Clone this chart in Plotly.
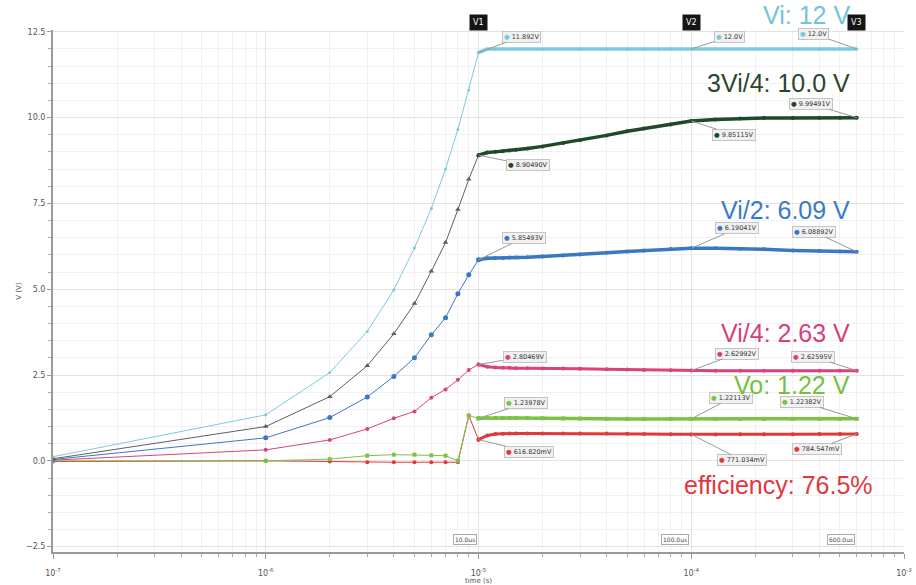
import numpy as np
import plotly.graph_objects as go

# ---------------- data ----------------
# start-up ramp, time in microseconds
t_ramp_us = [0.1, 1, 2, 3, 4, 5, 6, 7, 8, 9, 10]
vi_ramp = [0.12, 1.34, 2.57, 3.77, 4.98, 6.2, 7.35, 8.5, 9.65, 10.8, 11.892]
v34_ramp = [0.06, 1.0, 1.87, 2.77, 3.7, 4.58, 5.52, 6.36, 7.32, 8.2, 8.905]
v12_ramp = [0.04, 0.67, 1.26, 1.86, 2.46, 3.0, 3.67, 4.17, 4.87, 5.42, 5.855]
v14_ramp = [0.02, 0.32, 0.61, 0.93, 1.24, 1.44, 1.84, 2.08, 2.36, 2.65, 2.805]
vo_ramp = [0.0, 0.0, 0.05, 0.15, 0.18, 0.18, 0.16, 0.15, 0.0, 1.32, 1.24]
vr_ramp = [-0.02, 0.0, -0.02, -0.04, -0.04, -0.04, -0.04, -0.04, -0.04, 1.32, 0.617]

# settling part, time in microseconds
t_set_us = [10, 11, 12, 13, 14, 15, 17, 20, 25, 30, 40, 50, 60, 80, 100, 130, 170, 220, 300, 400, 500, 600]
vi_set = [11.892, 12.0, 12.0, 12.0, 12.0, 12.0, 12.0, 12.0, 12.0, 12.0, 12.0,
          12.0, 12.0, 12.0, 12.0, 12.0, 12.0, 12.0, 12.0, 12.0, 12.0, 12.0]
v34_set = [8.905, 8.98, 9.0, 9.02, 9.04, 9.06, 9.1, 9.16, 9.26, 9.34, 9.48,
           9.6, 9.68, 9.8, 9.9, 9.94, 9.97, 9.985, 9.99, 9.993, 9.994, 9.995]
v12_set = [5.855, 5.9, 5.91, 5.91, 5.92, 5.92, 5.93, 5.95, 5.98, 6.01, 6.06,
           6.1, 6.13, 6.17, 6.19, 6.19, 6.18, 6.16, 6.13, 6.11, 6.095, 6.089]
v14_set = [2.805, 2.74, 2.72, 2.71, 2.71, 2.7, 2.7, 2.69, 2.69, 2.68, 2.67,
           2.66, 2.65, 2.64, 2.63, 2.628, 2.627, 2.626, 2.626, 2.626, 2.626, 2.626]
vo_set = [1.24, 1.25, 1.25, 1.25, 1.25, 1.25, 1.245, 1.24, 1.235, 1.23, 1.225,
          1.222, 1.221, 1.221, 1.221, 1.222, 1.222, 1.223, 1.223, 1.224, 1.224, 1.224]
vr_set = [0.617, 0.74, 0.78, 0.79, 0.8, 0.8, 0.8, 0.8, 0.8, 0.8, 0.795,
          0.79, 0.785, 0.775, 0.771, 0.77, 0.772, 0.775, 0.778, 0.781, 0.783, 0.7845]

cursor_names = ["V1", "V2", "V3"]
cursor_t = [10e-6, 100e-6, 600e-6]
cursor_tlabels = ["10.0us", "100.0us", "600.0us"]

labels_c1 = ["11.892V", "8.90490V", "5.85493V", "2.80469V", "1.23978V", "616.820mV"]
labels_c2 = ["12.0V", "9.85115V", "6.19041V", "2.62992V", "1.22113V", "771.034mV"]
labels_c3 = ["12.0V", "9.99491V", "6.08892V", "2.62595V", "1.22382V", "784.547mV"]
vals_c1 = [11.892, 8.905, 5.855, 2.805, 1.24, 0.617]
vals_c2 = [12.0, 9.9, 6.19, 2.63, 1.221, 0.771]
vals_c3 = [12.0, 9.995, 6.089, 2.626, 1.224, 0.7845]

big_labels = ["Vi: 12 V", "3Vi/4: 10.0 V", "Vi/2: 6.09 V", "Vi/4: 2.63 V", "Vo: 1.22 V", "efficiency: 76.5%"]

x_tickvals = [1e-7, 1e-6, 1e-5, 1e-4, 1e-3]
x_ticktext = ["10<sup>-7</sup>", "10<sup>-6</sup>", "10<sup>-5</sup>", "10<sup>-4</sup>", "10<sup>-3</sup>"]
y_tickvals = [-2.5, 0.0, 2.5, 5.0, 7.5, 10.0, 12.5]

# ---------------- styling ----------------
C_VI = "#7ccbdd"
C_34 = "#1f4a29"
C_34R = "#5d615e"
C_12 = "#3a78c4"
C_14 = "#d9437d"
C_VO = "#7cc344"
C_R = "#e0383c"

t_ramp = [v * 1e-6 for v in t_ramp_us]
t_set = [v * 1e-6 for v in t_set_us]

fig = go.Figure()

def add(t, y, color, symbol, size, width):
    fig.add_trace(go.Scatter(x=t, y=y, mode="lines+markers",
                             line=dict(color=color, width=width),
                             marker=dict(color=color, symbol=symbol, size=size),
                             showlegend=False, hoverinfo="skip"))

add(t_ramp, vr_ramp, C_R, "circle", 4, 1)
add(t_ramp, vo_ramp, C_VO, "square", 4, 1)
add(t_ramp, v14_ramp, C_14, "circle", 4, 1)
add(t_ramp, v12_ramp, C_12, "circle", 5, 1)
add(t_ramp, v34_ramp, C_34R, "triangle-up", 5, 1)
add(t_ramp, vi_ramp, C_VI, "circle", 3, 1)

add(t_set, vr_set, C_R, "circle", 4, 3)
add(t_set, vo_set, C_VO, "square", 4, 3.5)
add(t_set, v14_set, C_14, "circle", 4, 3)
add(t_set, v12_set, C_12, "circle", 4, 3.5)
add(t_set, v34_set, C_34, "circle", 4, 3.5)
add(t_set, vi_set, C_VI, "circle", 3, 3.5)

# plot area geometry in pixels (for annotation placement)
L, R, T, B = 53, 904, 30, 552
PH = B - T

def py2paper(py):
    return (B - py) / PH

def px2paper(px):
    return (px - L) / (R - L)

shapes = []
annotations = []

for name, t, tl in zip(cursor_names, cursor_t, cursor_tlabels):
    lx = np.log10(t)
    shapes.append(dict(type="line", xref="x", yref="paper", x0=lx, x1=lx,
                       y0=0, y1=py2paper(8), line=dict(color="#8c8c8c", width=1.3)))
    annotations.append(dict(x=lx, xref="x", y=py2paper(14), yref="paper",
                            text=name, showarrow=False,
                            font=dict(color="white", size=8, family="DejaVu Sans"),
                            bgcolor="#151515", borderpad=3))
    annotations.append(dict(x=lx, xref="x", y=py2paper(545), yref="paper",
                            text=tl, showarrow=False, xanchor="right", xshift=-2,
                            font=dict(color="#444", size=6, family="DejaVu Sans"),
                            bgcolor="white", bordercolor="#aaa", borderwidth=1, borderpad=1))

colors6 = [C_VI, C_34, C_12, C_14, C_VO, C_R]
offsets_c1 = [(43, -16), (49, 10), (45, -22), (46, -8), (47, -15), (50, 12)]
offsets_c2 = [(38, -12), (43, 14), (46, -20), (46, -17), (40, -21), (51, 26)]
offsets_c3 = [(-43, -15), (-46, -14), (-43, -20), (-44, -14), (-55, -17), (-40, 15)]

for t, labs, vals, offs in [(cursor_t[0], labels_c1, vals_c1, offsets_c1),
                            (cursor_t[1], labels_c2, vals_c2, offsets_c2),
                            (cursor_t[2], labels_c3, vals_c3, offsets_c3)]:
    for lab, v, (ax, ay), col in zip(labs, vals, offs, colors6):
        annotations.append(dict(
            x=np.log10(t), y=v, xref="x", yref="y",
            text=f"<span style='color:{col}'>●</span> {lab}",
            showarrow=True, arrowhead=0, arrowwidth=1, arrowcolor="#9a9a9a",
            ax=ax, ay=ay, axref="pixel", ayref="pixel",
            font=dict(size=6.5, color="#333", family="DejaVu Sans"),
            bgcolor="#f1f1f1", bordercolor="#c4c4c4", borderwidth=1, borderpad=1))

big_pos = [(852, 15, "right"), (852, 83, "right"), (852, 210, "right"),
           (852, 333, "right"), (852, 385, "right"), (778, 485, "center")]
big_cols = ["#72c4d8", "#2b4630", "#3b7bc6", "#d6407d", "#76bf3f", "#e0383c"]
for txt, (px, py, anc), col in zip(big_labels, big_pos, big_cols):
    annotations.append(dict(x=px2paper(px), y=py2paper(py), xref="paper", yref="paper",
                            text=txt, showarrow=False, xanchor=anc, yanchor="middle",
                            font=dict(size=25, color=col, family="Liberation Sans, Arial")))

minor_x = [k * 10.0 ** e for e in range(-7, -3) for k in range(2, 10)]
minor_y = [v / 2 for v in range(-5, 26)]

fig.update_layout(
    width=916, height=585,
    margin=dict(l=L, r=916 - R, t=T, b=585 - B, autoexpand=False),
    paper_bgcolor="white", plot_bgcolor="white",
    shapes=shapes, annotations=annotations,
    font=dict(family="DejaVu Sans", size=8, color="#444"),
    xaxis=dict(type="log", range=[-7, -3], showline=True, linecolor="#9a9a9a", linewidth=2,
               automargin=False,
               tickvals=x_tickvals, ticktext=x_ticktext, ticks="outside", ticklen=5,
               tickcolor="#9a9a9a", ticklabelstandoff=7,
               showgrid=True, gridcolor="#e3e3e3", gridwidth=1, zeroline=False,
               tickfont=dict(size=8, color="#555"),
               minor=dict(tickvals=minor_x, ticks="outside", ticklen=3, tickcolor="#aaa",
                          showgrid=True, gridcolor="#f1f1f1"),
               title=dict(text="time (s)", font=dict(size=7, color="#555"), standoff=2)),
    yaxis=dict(range=[-2.655, 12.55], showline=True, linecolor="#9a9a9a", linewidth=2,
               automargin=False,
               tickvals=y_tickvals, tickformat=".1f", ticks="outside", ticklen=4,
               tickcolor="#9a9a9a", showgrid=True, gridcolor="#e3e3e3", zeroline=False,
               tickfont=dict(size=8, color="#555"),
               minor=dict(tickvals=minor_y, ticks="outside", ticklen=3, tickcolor="#aaa",
                          showgrid=True, gridcolor="#f1f1f1"),
               title=dict(text="V (V)", font=dict(size=7, color="#555"), standoff=4)),
)

fig.write_html("out.html")
